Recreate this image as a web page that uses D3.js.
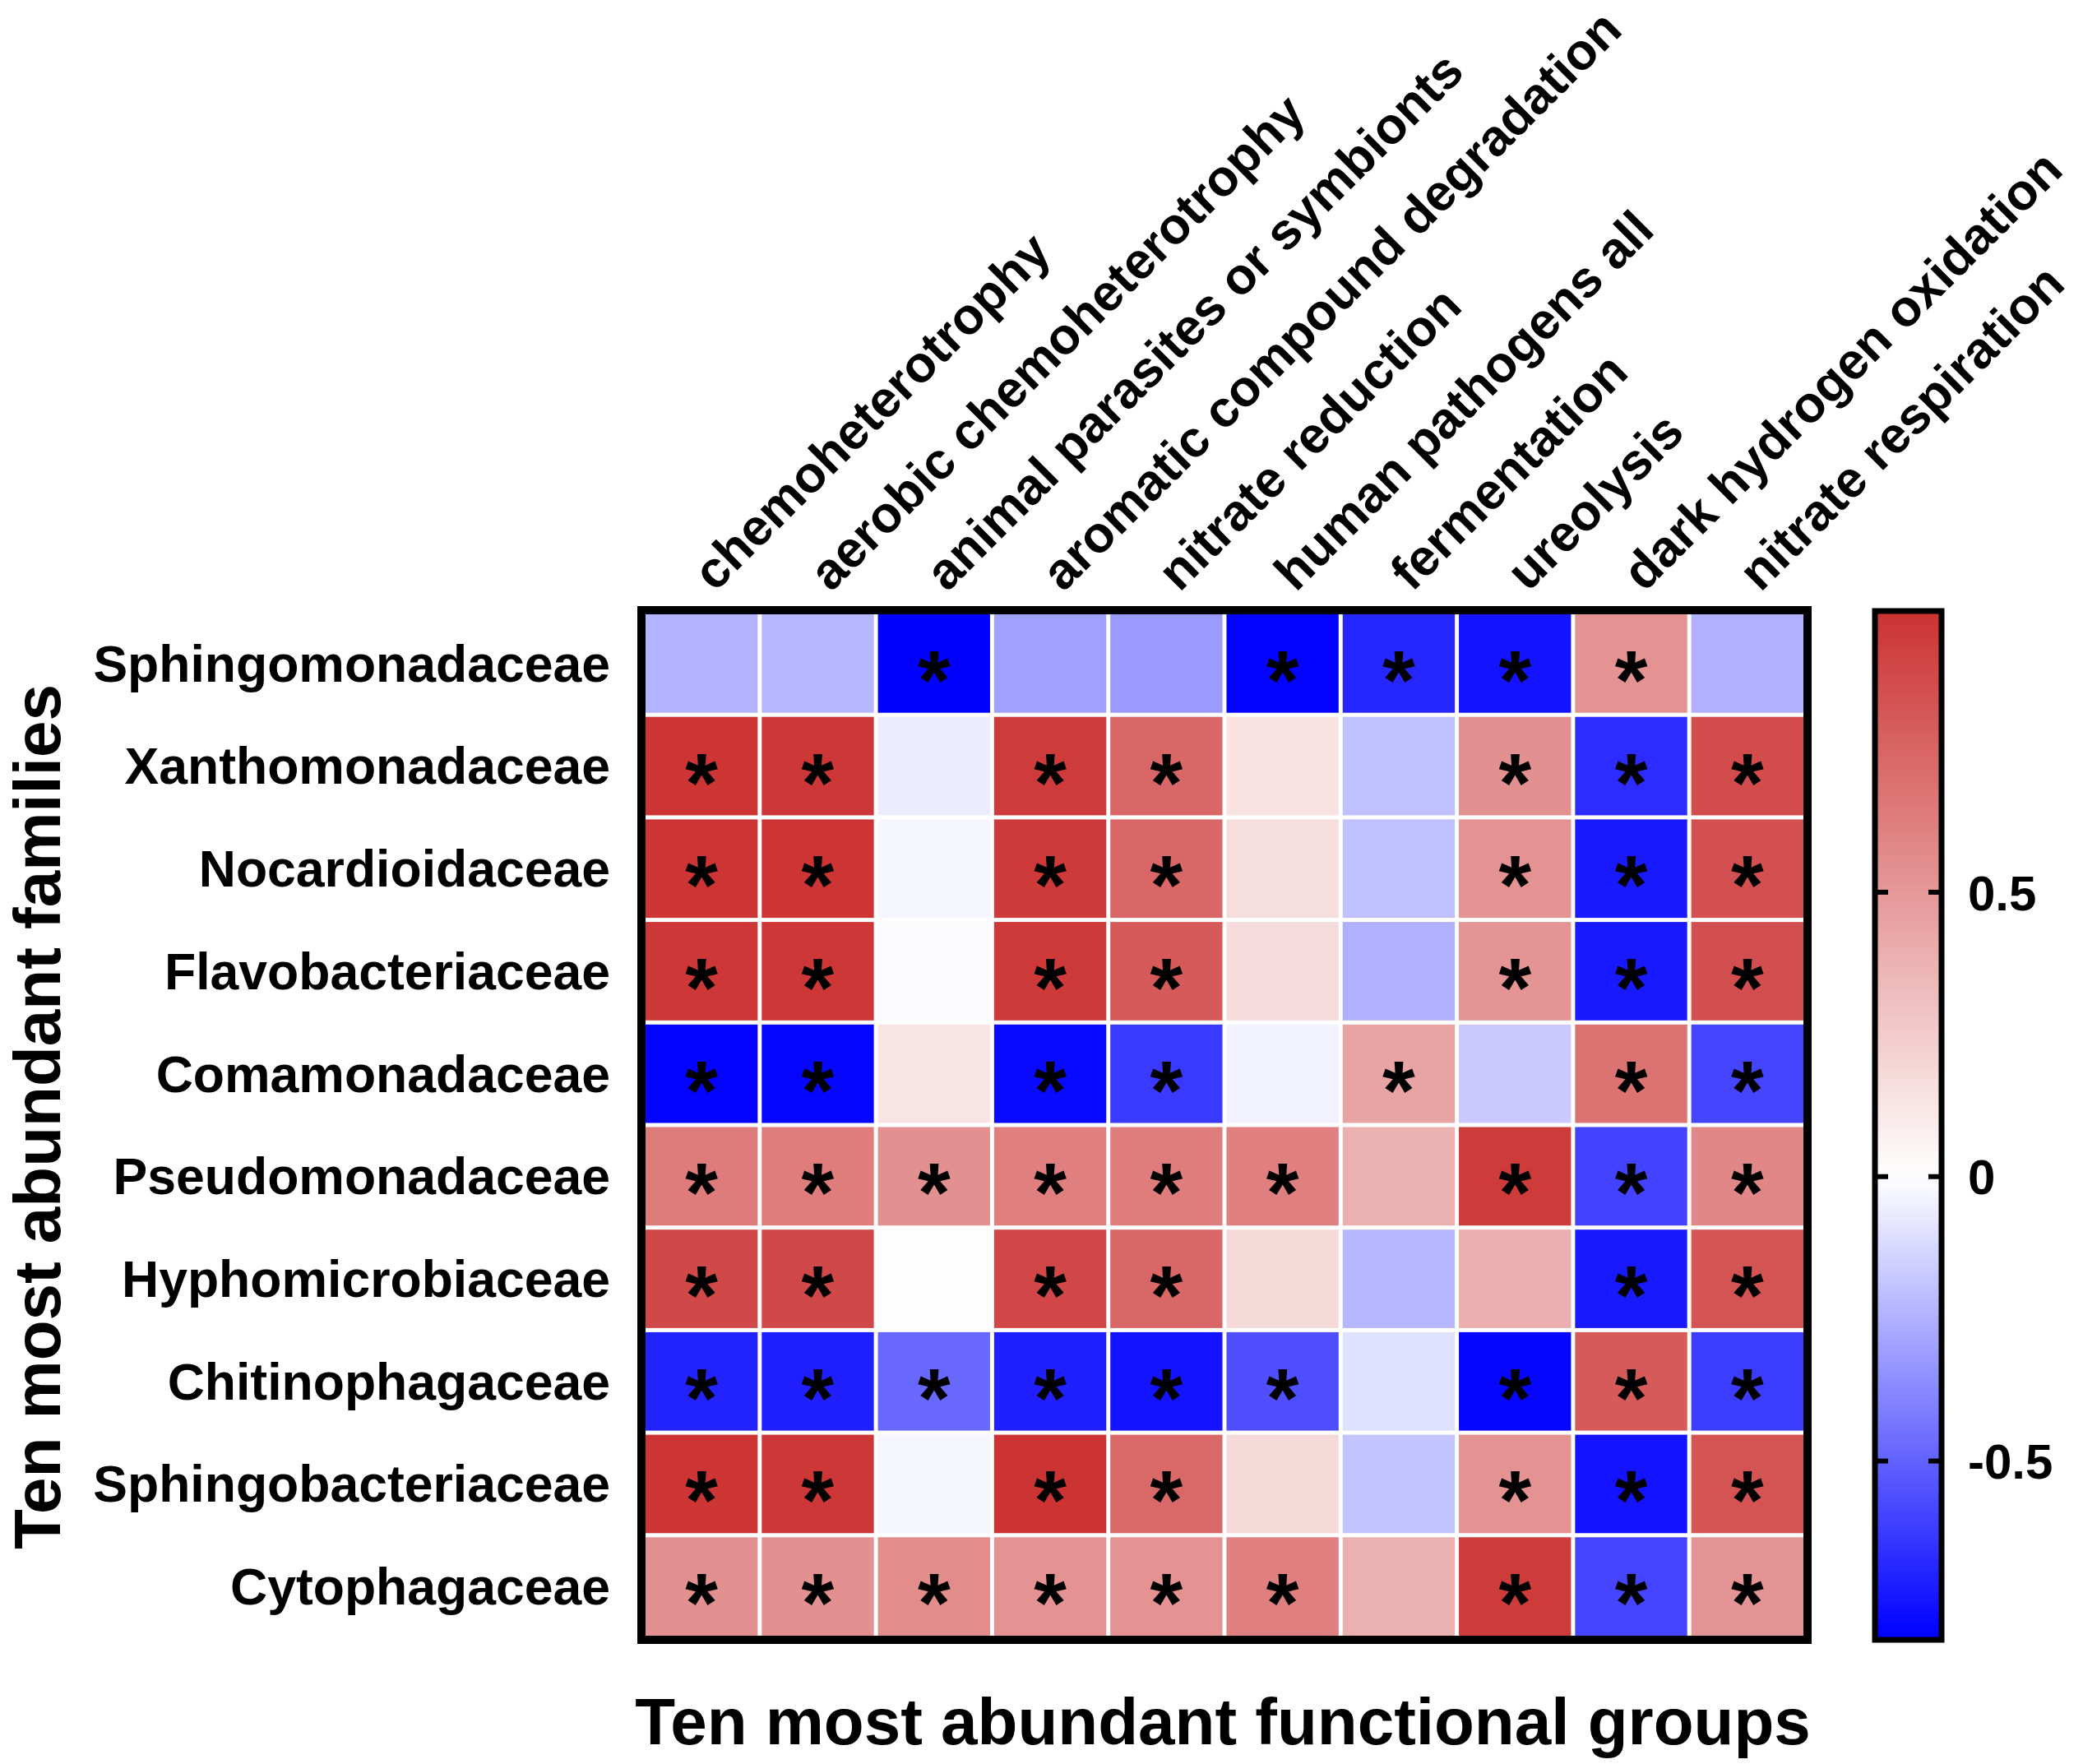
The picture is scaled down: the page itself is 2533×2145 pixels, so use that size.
<!DOCTYPE html>
<html>
<head>
<meta charset="utf-8">
<script src="https://cdn.jsdelivr.net/npm/d3@7"></script>
<style>
html,body{margin:0;padding:0;background:#fff;}
text{font-family:Arial,"Liberation Sans",Helvetica,sans-serif;font-weight:bold;fill:#000;}
</style>
</head>
<body>
<svg id="chart" width="2533" height="2145"></svg>
<script>
const families = ["Sphingomonadaceae","Xanthomonadaceae","Nocardioidaceae","Flavobacteriaceae","Comamonadaceae","Pseudomonadaceae","Hyphomicrobiaceae","Chitinophagaceae","Sphingobacteriaceae","Cytophagaceae"];
const groups = ["chemoheterotrophy","aerobic chemoheterotrophy","animal parasites or symbionts","aromatic compound degradation","nitrate reduction","human pathogens all","fermentation","ureolysis","dark hydrogen oxidation","nitrate respiration"];

// correlation values, one array per family (columns follow `groups`)
const sphingomonadaceae   = [-0.24,-0.23,-0.81,-0.30,-0.32,-0.80,-0.69,-0.75, 0.53,-0.25];
const xanthomonadaceae    = [ 0.98, 0.97,-0.06, 0.95, 0.74, 0.14,-0.20, 0.54,-0.67, 0.87];
const nocardioidaceae     = [ 0.98, 0.98,-0.03, 0.96, 0.74, 0.16,-0.20, 0.53,-0.73, 0.85];
const flavobacteriaceae   = [ 0.97, 0.97,-0.01, 0.96, 0.80, 0.17,-0.25, 0.52,-0.73, 0.86];
const comamonadaceae      = [-0.80,-0.79, 0.13,-0.78,-0.63,-0.04, 0.44,-0.17, 0.68,-0.59];
const pseudomonadaceae    = [ 0.64, 0.63, 0.54, 0.62, 0.63, 0.62, 0.38, 0.95,-0.60, 0.58];
const hyphomicrobiaceae   = [ 0.89, 0.89, 0.01, 0.90, 0.74, 0.18,-0.23, 0.39,-0.73, 0.83];
const chitinophagaceae    = [-0.70,-0.71,-0.48,-0.71,-0.75,-0.56,-0.10,-0.79, 0.80,-0.62];
const sphingobacteriaceae = [ 0.98, 0.97,-0.03, 0.99, 0.73, 0.18,-0.19, 0.53,-0.75, 0.83];
const cytophagaceae       = [ 0.54, 0.54, 0.56, 0.53, 0.53, 0.62, 0.38, 0.95,-0.59, 0.52];
const values = [sphingomonadaceae,xanthomonadaceae,nocardioidaceae,flavobacteriaceae,comamonadaceae,pseudomonadaceae,hyphomicrobiaceae,chitinophagaceae,sphingobacteriaceae,cytophagaceae];

// significance marks (1 = "*")
const significance = [
  [0,0,1,0,0,1,1,1,1,0],
  [1,1,0,1,1,0,0,1,1,1],
  [1,1,0,1,1,0,0,1,1,1],
  [1,1,0,1,1,0,0,1,1,1],
  [1,1,0,1,1,0,1,0,1,1],
  [1,1,1,1,1,1,0,1,1,1],
  [1,1,0,1,1,0,0,0,1,1],
  [1,1,1,1,1,1,0,1,1,1],
  [1,1,0,1,1,0,0,1,1,1],
  [1,1,1,1,1,1,0,1,1,1]
];

const colorDomain = [-0.81, 0, 0.99];
const colorRange = ["#0000ff", "#ffffff", "#cc3333"];
const legendTicks = [-0.5, 0, 0.5];
const xTitle = "Ten most abundant functional groups";
const yTitle = "Ten most abundant families";

(function draw() {
const svg = d3.select("#chart");
const L = 785, R = 2193, T = 747, B = 1989;

const x = d3.scaleBand().domain(groups).range([L, R]).paddingInner(0.035).paddingOuter(0);
const y = d3.scaleBand().domain(families).range([T, B]).paddingInner(0.04).paddingOuter(0);
const color = d3.scaleLinear().domain(colorDomain).range(colorRange).interpolate(d3.interpolateRgb).clamp(true);

const cells = [];
families.forEach((f, i) => groups.forEach((g, j) => cells.push({f, g, v: values[i][j], s: significance[i][j]})));

svg.append("rect").attr("x", L).attr("y", T).attr("width", R-L).attr("height", B-T).attr("fill", "#fff");

svg.append("g").selectAll("rect").data(cells).join("rect")
  .attr("x", d => x(d.g)).attr("y", d => y(d.f))
  .attr("width", x.bandwidth()).attr("height", y.bandwidth())
  .attr("fill", d => color(d.v));

svg.append("g").selectAll("text").data(cells.filter(d => d.s)).join("text")
  .attr("x", d => x(d.g) + x.bandwidth()/2)
  .attr("y", d => y(d.f) + y.bandwidth()/2 + 55)
  .attr("text-anchor", "middle")
  .style("font-size", "102px")
  .text("*");

// frame
svg.append("rect").attr("x", L-5).attr("y", T-5).attr("width", R-L+10).attr("height", B-T+10)
  .attr("fill", "none").attr("stroke", "#000").attr("stroke-width", 10);

// row labels
svg.append("g").selectAll("text").data(families).join("text")
  .attr("x", 742).attr("y", d => y(d) + y.bandwidth()/2)
  .attr("dy", "0.35em").attr("text-anchor", "end")
  .style("font-size", "62.5px").text(d => d);

// column labels
svg.append("g").selectAll("text").data(groups).join("text")
  .attr("transform", d => `translate(${x(d) + x.bandwidth()/2 + 16},721) rotate(-45)`)
  .attr("text-anchor", "start")
  .style("font-size", "62px").text(d => d);

// axis titles
svg.append("text").attr("x", (L+R)/2 - 2).attr("y", 2121).attr("text-anchor", "middle")
  .style("font-size", "80px").text(xTitle);
svg.append("text").attr("transform", `translate(73,${(T+B)/2 - 10}) rotate(-90)`).attr("text-anchor", "middle")
  .style("font-size", "80px").text(yTitle);

// color bar
const cbX = 2283, cbW = 75, cbTop = 746, cbBot = 1991;
const ly = d3.scaleLinear().domain([colorDomain[0], colorDomain[2]]).range([cbBot, cbTop]);
const defs = svg.append("defs");
const grad = defs.append("linearGradient").attr("id", "cbgrad").attr("x1", 0).attr("y1", 1).attr("x2", 0).attr("y2", 0);
d3.range(0, 1.0001, 0.02).forEach(t => {
  const v = colorDomain[0] + t*(colorDomain[2]-colorDomain[0]);
  grad.append("stop").attr("offset", t).attr("stop-color", color(v));
});
svg.append("rect").attr("x", cbX).attr("y", cbTop).attr("width", cbW).attr("height", cbBot-cbTop).attr("fill", "url(#cbgrad)");
svg.append("rect").attr("x", cbX-3).attr("y", cbTop-3).attr("width", cbW+6).attr("height", cbBot-cbTop+6)
  .attr("fill", "none").attr("stroke", "#000").attr("stroke-width", 7);
const tk = svg.append("g").selectAll("g").data(legendTicks).join("g").attr("transform", d => `translate(0,${ly(d)})`);
tk.append("line").attr("x1", cbX).attr("x2", cbX+13).attr("stroke", "#000").attr("stroke-width", 6);
tk.append("line").attr("x1", cbX+cbW-13).attr("x2", cbX+cbW).attr("stroke", "#000").attr("stroke-width", 6);
tk.append("text").attr("x", 2393).attr("dy", "0.36em").style("font-size", "60px").text(d => String(d));
})();
</script>
</body>
</html>
